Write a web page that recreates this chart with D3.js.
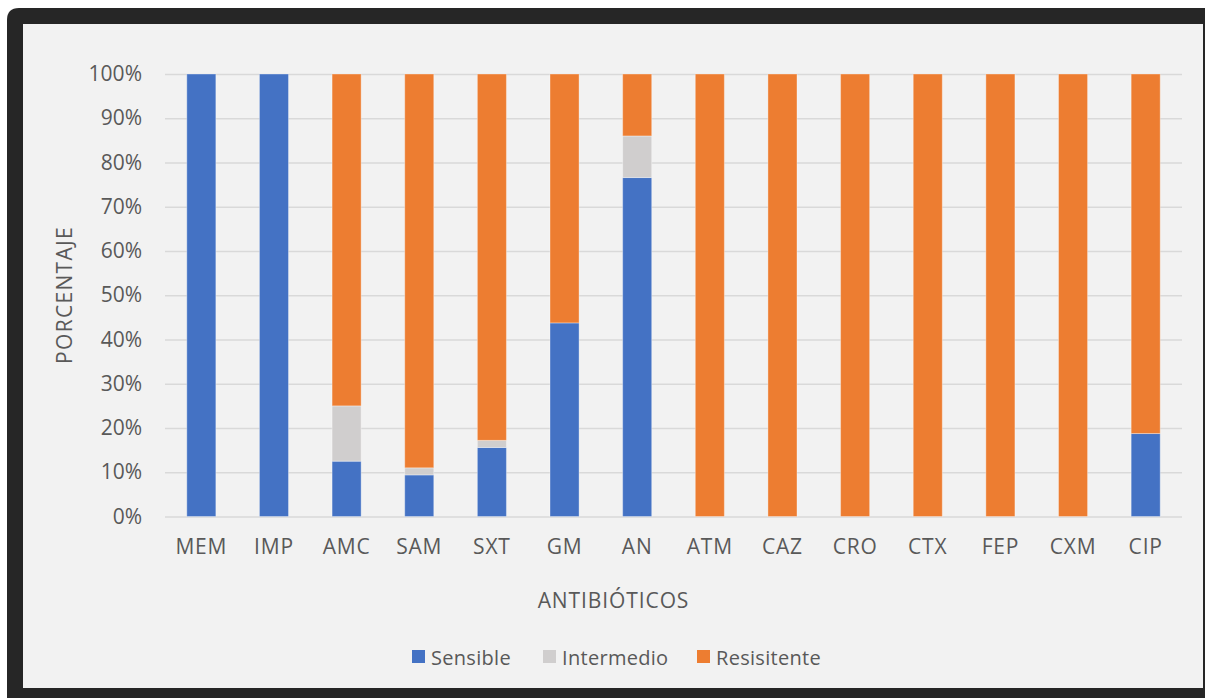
<!DOCTYPE html>
<html>
<head>
<meta charset="utf-8">
<script src="https://cdn.jsdelivr.net/npm/d3@7"></script>
<style>
  html, body { margin: 0; padding: 0; background: #ffffff; }
  svg { display: block; }
  text { font-family: "Open Sans", Lato, sans-serif; fill: #595959; }
</style>
</head>
<body>
<svg id="chart" width="1205" height="698"></svg>
<script>
// Antibiotic susceptibility profile (share of isolates per antibiotic)
const categories = ["MEM", "IMP", "AMC", "SAM", "SXT", "GM", "AN", "ATM", "CAZ", "CRO", "CTX", "FEP", "CXM", "CIP"];
const sensible   = [100, 100, 12.5, 9.4, 15.6, 43.75, 76.6, 0, 0, 0, 0, 0, 0, 18.75];
const intermedio = [0, 0, 12.5, 1.6, 1.6, 0, 9.4, 0, 0, 0, 0, 0, 0, 0];
const resistente = [0, 0, 75, 89, 82.8, 56.25, 14.0, 100, 100, 100, 100, 100, 100, 81.25];
const yTicks = [0, 10, 20, 30, 40, 50, 60, 70, 80, 90, 100];
const seriesNames = ["Sensible", "Intermedio", "Resisitente"];
const seriesColors = ["#4472C4", "#D0CECE", "#ED7D31"];

const FONT = "'Open Sans', Lato, sans-serif";
const svg = d3.select("#chart");

// Dark frame with a light panel inside
svg.append("path")
  .attr("d", "M7,698 L7,20 Q7,8 19,8 L1210,8 L1210,698 Z")
  .attr("fill", "#262626");
svg.append("rect")
  .attr("x", 23).attr("y", 24)
  .attr("width", 1180).attr("height", 664)
  .attr("fill", "#f2f2f2");

const plot = { left: 165, right: 1182, top: 74, bottom: 516.5 };

const rows = categories.map((c, i) => ({
  cat: c, Sensible: sensible[i], Intermedio: intermedio[i], Resisitente: resistente[i]
}));
const stack = d3.stack().keys(seriesNames)(rows);

const x = d3.scaleBand().domain(categories)
  .range([plot.left, plot.right]).paddingInner(0.6).paddingOuter(0.3);
const y = d3.scaleLinear().domain([0, 100]).range([plot.bottom, plot.top]);

// Horizontal gridlines with percent labels
const yAxis = d3.axisLeft(y).tickValues(yTicks).tickFormat(d => d + "%")
  .tickSize(-(plot.right - plot.left)).tickPadding(23);
const gy = svg.append("g").attr("transform", `translate(${plot.left},0)`).call(yAxis);
gy.select(".domain").remove();
gy.selectAll(".tick line").attr("stroke", "#d9d9d9").attr("stroke-width", 1.5);
gy.selectAll(".tick text").attr("font-size", 21).attr("fill", "#595959")
  .style("font-family", FONT);

// Stacked bars
const colorOf = d3.scaleOrdinal().domain(seriesNames).range(seriesColors);
svg.append("g").selectAll("g").data(stack).join("g")
  .attr("fill", d => colorOf(d.key))
  .selectAll("rect").data(d => d).join("rect")
  .filter(d => d[1] - d[0] > 0)
  .attr("x", d => x(d.data.cat))
  .attr("width", x.bandwidth())
  .attr("y", d => y(d[1]))
  .attr("height", d => y(d[0]) - y(d[1]))
  .attr("stroke", "rgba(255,255,255,0.35)")
  .attr("stroke-width", 1);

// Category labels
const xAxis = d3.axisBottom(x).tickSize(0).tickPadding(23);
const gx = svg.append("g").attr("transform", `translate(0,${plot.bottom})`).call(xAxis);
gx.select(".domain").remove();
gx.selectAll(".tick text").attr("font-size", 21).attr("fill", "#595959")
  .attr("letter-spacing", 0.8)
  .style("font-family", FONT);

// Axis titles
svg.append("text")
  .attr("x", 613.5).attr("y", 608)
  .attr("text-anchor", "middle").attr("font-size", 21)
  .attr("letter-spacing", 0.9)
  .text("ANTIBIÓTICOS");
svg.append("text")
  .attr("transform", `translate(72,295) rotate(-90)`)
  .attr("text-anchor", "middle").attr("font-size", 21)
  .attr("letter-spacing", 1.3)
  .text("PORCENTAJE");

// Legend
const legendX = [412, 543, 697];
const legend = svg.append("g").selectAll("g").data(seriesNames).join("g")
  .attr("transform", (d, i) => `translate(${legendX[i]},650)`);
legend.append("rect").attr("width", 13).attr("height", 13).attr("fill", d => colorOf(d));
legend.append("text").attr("x", 19).attr("y", 14.5).attr("font-size", 20)
  .attr("letter-spacing", 0.3).text(d => d);
</script>
</body>
</html>
